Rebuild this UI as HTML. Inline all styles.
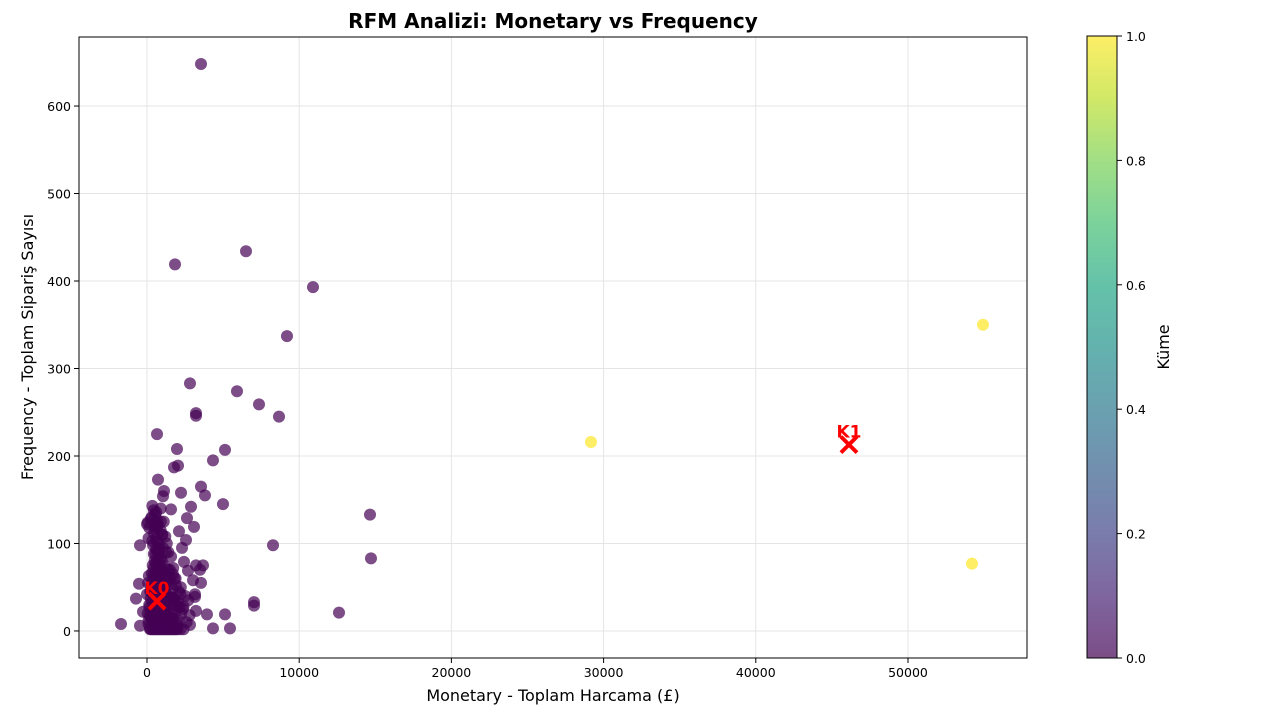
<!DOCTYPE html>
<html><head><meta charset="utf-8"><style>
body{margin:0;background:#fff;font-family:"Liberation Sans","DejaVu Sans",sans-serif;}
svg text{font-family:"DejaVu Sans","Liberation Sans",sans-serif;}
</style></head><body>
<svg id="c" width="1280" height="712">
<defs>
<linearGradient id="vir" x1="0" y1="1" x2="0" y2="0">
<stop offset="0" stop-color="#440154"/><stop offset="0.1" stop-color="#482475"/><stop offset="0.2" stop-color="#414487"/><stop offset="0.3" stop-color="#355f8d"/><stop offset="0.4" stop-color="#2a788e"/><stop offset="0.5" stop-color="#21918c"/><stop offset="0.6" stop-color="#22a884"/><stop offset="0.7" stop-color="#44bf70"/><stop offset="0.8" stop-color="#7ad151"/><stop offset="0.9" stop-color="#bddf26"/><stop offset="1" stop-color="#fde725"/>
</linearGradient>
</defs>
<text x="553" y="28" text-anchor="middle" font-size="20" font-weight="bold">RFM Analizi: Monetary vs Frequency</text>
<g id="grid"></g>
<g id="pts"></g>
<g id="axes"></g>
<text x="553" y="701" text-anchor="middle" font-size="16">Monetary - Toplam Harcama (£)</text>
<text transform="translate(33,347) rotate(-90)" text-anchor="middle" font-size="16">Frequency - Toplam Sipariş Sayısı</text>
<rect x="1087" y="36" width="30" height="622" fill="url(#vir)" opacity="0.7"/>
<rect x="1087" y="36" width="30" height="622" fill="none" stroke="#000" stroke-width="1"/>
<g id="cb"></g>
<text transform="translate(1169,347) rotate(-90)" text-anchor="middle" font-size="16">Küme</text>
</svg>
<script>
const monetary0=[3548,6505,1840,10907,9198,2825,5913,7359,3220,3220,8673,657,1971,5125,2037,1774,4336,723,3548,2234,3810,1117,1051,4993,2891,1577,14652,2628,3088,2102,2562,2300,-460,8279,14717,2431,3220,3680,3482,2694,3548,3023,3154,3154,-526,-723,-1708,-460,3220,3942,5125,7030,7030,12615,4336,5453,2825,1905,-263,
200,400,600,800,1000,1200,1400,1600,1800,2000,100,300,500,700,900,1100,1300,1500,1700,1900,2100,50,250,450,650,850,1050,1250,1450,1650,1850,2050,2250,150,350,550,750,950,1150,1350,1550,1750,1950,2150,2350,2500,0,220,420,620,820,1020,1220,1420,1620,1820,2020,2220,80,280,480,680,880,1080,1280,1480,1680,1880,120,320,520,720,920,1120,1320,1520,1720,380,580,780,980,1180,1380,1580,450,650,850,1050,1250,400,600,800,1000,1200,500,700,900,1100,300,600,900,2600,2800,2400,2700,1300,1600,
100,300,500,700,900,1100,200,400,600,800,1000,1200,150,350,550,750,950,1150,250,450,650,850,1050,300,500,700,900,1100,350,550,750,950,400,600,800,1000,450,650,850,500,700,900,550,750,600,800,650,350,450,550,700,900,1000,1300,1400,1500,1700,1800,1900,2100,2200,1600,1200,850,750,650,550,450,350,250,150,50,
0,100,200,300,400,500,600,700,800,900,1000,1100,1200,1300,1400,1500,1600,1700,1800,2000,2200,2400];
const frequency0=[648,434,419,393,337,283,274,259,249,246,245,225,208,207,189,187,195,173,165,158,155,160,154,145,142,139,133,129,119,114,104,95,98,98,83,79,75,75,70,69,55,58,42,39,54,37,8,6,23,19,19,29,33,21,3,3,7,2,22,
3,5,4,6,3,5,4,7,5,6,12,14,10,15,11,13,16,12,14,10,12,20,22,25,18,24,21,26,23,19,22,28,20,30,33,35,31,34,29,36,32,38,30,27,25,40,42,45,41,46,43,47,44,40,38,35,33,50,55,52,58,54,57,51,56,53,48,60,63,66,61,68,64,67,62,59,72,75,78,71,80,74,70,85,88,92,84,95,90,98,105,100,110,108,118,122,115,125,130,136,140,10,18,28,35,8,15,
8,9,10,11,12,13,17,18,19,20,21,22,27,28,29,30,31,32,37,38,39,40,41,45,46,47,48,49,55,56,57,58,63,64,65,66,72,73,74,80,81,82,88,89,94,95,102,103,112,116,120,125,110,100,90,70,65,60,52,45,42,38,30,24,18,127,133,138,143,128,118,124,122,106,
2,2,2,2,2,2,2,2,2,2,2,2,2,2,2,2,2,2,2,2,2,2];
const monetary1=[29172,54927,54205];
const frequency1=[216,350,77];
const centroidM=[657,46123];
const centroidF=[34,213];
const centroidLabels=["K0","K1"];
const xTicks=[0,10000,20000,30000,40000,50000];
const yTicks=[0,100,200,300,400,500,600];
const cbTicks=["0.0","0.2","0.4","0.6","0.8","1.0"];

const X0=79,X1=1027,Y0=37,Y1=658;
const xmin=-4468,xmax=57820,ymin=-30.9,ymax=678.9;
const sx=v=>X0+(v-xmin)/(xmax-xmin)*(X1-X0);
const sy=v=>Y1-(v-ymin)/(ymax-ymin)*(Y1-Y0);
const NS="http://www.w3.org/2000/svg";
function mk(tag,attrs,parent,txt){const e=document.createElementNS(NS,tag);for(const k in attrs)e.setAttribute(k,attrs[k]);if(txt!==undefined)e.textContent=txt;parent.appendChild(e);return e;}
const grid=document.getElementById('grid'),pts=document.getElementById('pts'),axes=document.getElementById('axes'),cb=document.getElementById('cb');
xTicks.forEach(t=>{
  const l=mk('line',{x1:sx(t),x2:sx(t),y1:Y0,y2:Y1,stroke:'#e5e5e5','stroke-width':1},grid);
  
  
  const tk=mk('line',{x1:sx(t),x2:sx(t),y1:Y1,y2:Y1+5,stroke:'#000'},axes);
  
  
  const tx=mk('text',{x:sx(t),y:Y1+19,'text-anchor':'middle','font-size':12.5},axes,String(t));
  
  
});
yTicks.forEach(t=>{
  const l=mk('line',{x1:X0,x2:X1,y1:sy(t),y2:sy(t),stroke:'#e5e5e5','stroke-width':1},grid);
  
  
  const tk=mk('line',{x1:X0-5,x2:X0,y1:sy(t),y2:sy(t),stroke:'#000'},axes);
  
  
  const tx=mk('text',{x:X0-8,y:sy(t)+5,'text-anchor':'end','font-size':12.5},axes,String(t));
  
  
});
monetary0.forEach((m,i)=>{
  const c=mk('circle',{cx:sx(m),cy:sy(frequency0[i]),r:6,fill:'#440154','fill-opacity':0.7},pts);
  
  
});
monetary1.forEach((m,i)=>{
  const c=mk('circle',{cx:sx(m),cy:sy(frequency1[i]),r:6,fill:'#fde725','fill-opacity':0.7},pts);
  
  
});
centroidM.forEach((m,i)=>{
  const x=sx(m),y=sy(centroidF[i]),s=8;
  const g=mk('g',{},pts);
  
  
  mk('path',{d:`M${x-s},${y-s}L${x+s},${y+s}M${x-s},${y+s}L${x+s},${y-s}`,stroke:'#ff0000','stroke-width':4},g);
  mk('text',{x:x,y:y-7,'text-anchor':'middle','font-size':17,'font-weight':'bold',fill:'#ff0000'},g,centroidLabels[i]);
});
mk('rect',{x:X0,y:Y0,width:X1-X0,height:Y1-Y0,fill:'none',stroke:'#000','stroke-width':1},axes);
cbTicks.forEach((t,i)=>{
  const y=658-i*(622/5);
  const tk=mk('line',{x1:1117,x2:1122,y1:y,y2:y,stroke:'#000'},cb);
  
  
  const tx=mk('text',{x:1126,y:y+5,'font-size':12.5},cb,t);
  
  
});
</script>
</body></html>
